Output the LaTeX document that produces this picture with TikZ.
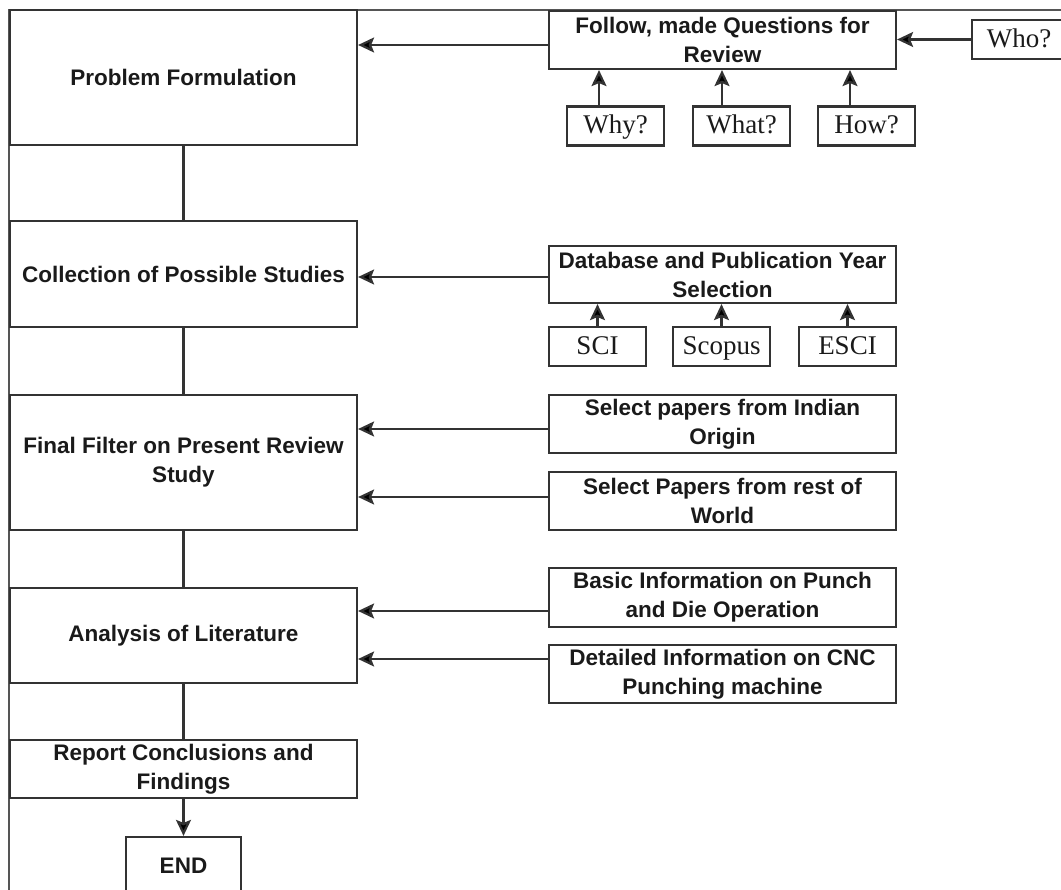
\documentclass[tikz,border=0pt]{standalone}
\usepackage{fontspec}
\setmainfont{Liberation Serif}
\setsansfont{Liberation Sans}
\usetikzlibrary{arrows.meta}
\definecolor{lc}{HTML}{333333}
\definecolor{fc}{HTML}{555555}
\definecolor{tc}{HTML}{1A1A1A}
\begin{document}
\begin{tikzpicture}[x=1pt,y=-1pt,
  bx/.style={draw=lc, line width=2.2pt, inner sep=0pt, align=center, text=tc,
    font=\sffamily\bfseries\fontsize{22.5}{29}\selectfont},
  sb/.style={draw=lc, line width=2.2pt, inner sep=0pt, text=tc,
    text height=20pt, text depth=4pt,
    minimum width=97pt, minimum height=39pt, font=\fontsize{27}{30}\selectfont},
  lbox/.style={bx, minimum width=347pt},
  rbox/.style={bx, minimum width=347pt, minimum height=58pt},
  arr/.style={draw=lc, line width=2.2pt, -{Stealth[length=16pt,width=15pt,inset=3pt,fill=black]}},
  ln/.style={draw=lc, line width=2.2pt}]
\useasboundingbox (0,0) rectangle (1061,890);
% frame
\draw[draw=fc, line width=2pt] (9,890) -- (9,10) -- (1061,10);
% left column
\node[lbox, minimum height=135pt] (pf) at (183.5,77.5) {Problem Formulation};
\node[lbox, minimum height=106pt] (col) at (183.5,274) {Collection of Possible Studies};
\node[lbox, minimum height=135pt] (ff) at (183.5,462.5) {Final Filter on Present Review\\Study};
\node[lbox, minimum height=95pt] (ana) at (183.5,635.5) {Analysis of Literature};
\node[lbox, minimum height=58pt] (rep) at (183.5,769) {Report Conclusions and\\Findings};
\node[bx, minimum width=115pt, minimum height=58pt] (end) at (183.5,866) {END};
\draw[ln] (pf) -- (col);
\draw[ln] (col) -- (ff);
\draw[ln] (ff) -- (ana);
\draw[ln] (ana) -- (rep);
\draw[arr] (rep) -- (end);
% right column
\node[rbox] (follow) at (722.5,40) {Follow, made Questions for\\Review};
\node[sb, minimum width=94pt] (who) at (1019,39.5) {Who?};
\node[sb] (why) at (615.5,126) {Why?};
\node[sb] (what) at (741.5,126) {What?};
\node[sb] (how) at (866.5,126) {How?};
\draw[arr] (who.west) -- (who.west -| follow.east);
\draw[arr] (why.north -| 599,0) -- (follow.south -| 599,0);
\draw[arr] (what.north -| 722,0) -- (follow.south -| 722,0);
\draw[arr] (how.north -| 850,0) -- (follow.south -| 850,0);
\draw[arr] (follow.west |- 0,45) -- (pf.east |- 0,45);

\node[rbox, minimum height=57pt] (db) at (722.5,274.5) {Database and Publication Year\\Selection};
\node[sb] (sci) at (597.5,346.5) {SCI};
\node[sb] (scopus) at (721.5,346.5) {Scopus};
\node[sb] (esci) at (847.5,346.5) {ESCI};
\draw[arr] (sci) -- (sci |- db.south);
\draw[arr] (scopus) -- (scopus |- db.south);
\draw[arr] (esci) -- (esci |- db.south);
\draw[arr] (db.west |- 0,277) -- (col.east |- 0,277);

\node[rbox] (ind) at (722.5,424) {Select papers from Indian\\Origin};
\node[rbox] (rest) at (722.5,501) {Select Papers from rest of\\World};
\draw[arr] (ind.west |- 0,429) -- (ff.east |- 0,429);
\draw[arr] (rest.west |- 0,497) -- (ff.east |- 0,497);

\node[rbox, minimum height=59pt] (basic) at (722.5,597.5) {Basic Information on Punch\\and Die Operation};
\node[rbox] (det) at (722.5,674) {Detailed Information on CNC\\Punching machine};
\draw[arr] (basic.west |- 0,611) -- (ana.east |- 0,611);
\draw[arr] (det.west |- 0,659) -- (ana.east |- 0,659);
\end{tikzpicture}
\end{document}
